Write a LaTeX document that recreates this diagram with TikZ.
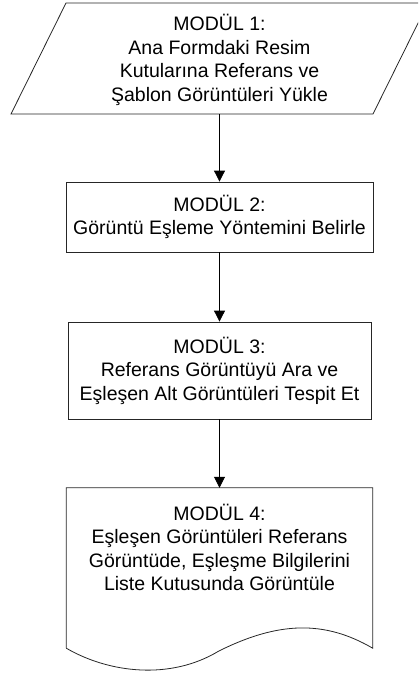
\documentclass[tikz,border=0pt]{standalone}
\usepackage{fontspec}
\setmainfont{Liberation Sans}
\usetikzlibrary{arrows.meta,positioning}

\begin{document}
\begin{tikzpicture}[x=1pt,y=1pt, inner sep=0pt, >={Triangle[width=11pt,length=11pt]},
  font=\fontsize{19.5}{23.5}\selectfont,
  modbox/.style={draw=black!85, line width=0.8pt, align=center}]
\useasboundingbox (0,0) rectangle (418,-677);
\clip (0,0) rectangle (418,-677);
% module 1: parallelogram
\coordinate (m1tl) at (66,-3);
\coordinate (m1tr) at (428,-3);
\coordinate (m1br) at (373,-114);
\coordinate (m1bl) at (11,-114);
\draw[draw=black!85, line width=0.8pt] (m1tl) -- (m1tr) -- (m1br) -- (m1bl) -- cycle;
\node (m1) at (219.5,-60) [minimum height=108pt, align=center] {MODÜL 1:\\Ana Formdaki Resim\\Kutularına Referans ve\\Şablon Görüntüleri Yükle};
% module 2 and 3
\node (m2) at (219.5,-217) [modbox, minimum width=307pt, minimum height=70pt] {MODÜL 2:\\Görüntü Eşleme Yöntemini Belirle};
\node (m3) at (219.5,-370.5) [modbox, minimum width=303pt, minimum height=97pt] {MODÜL 3:\\Referans Görüntüyü Ara ve\\Eşleşen Alt Görüntüleri Tespit Et};
% module 4: document
\node (m4) at (219.5,-568) [minimum width=306pt, minimum height=160pt] {};
\draw[draw=black!85, line width=0.8pt] (m4.south west) -- (m4.north west) -- (m4.north east) -- (m4.south east)
  .. controls +(-48,28) and +(60,30) .. ([xshift=-1pt,yshift=-3pt]m4.south)
  .. controls +(-48,-29) and +(43,-25) .. (m4.south west);
\node (m4t) [below=16pt of m4.north, align=center] {MODÜL 4:\\Eşleşen Görüntüleri Referans\\Görüntüde, Eşleşme Bilgilerini\\Liste Kutusunda Görüntüle};
\draw[->, line width=0.8pt] (m1) -- (m2);
\draw[->, line width=0.8pt] (m2) -- (m3);
\draw[->, line width=0.8pt] (m3) -- (m4);
\end{tikzpicture}
\end{document}
